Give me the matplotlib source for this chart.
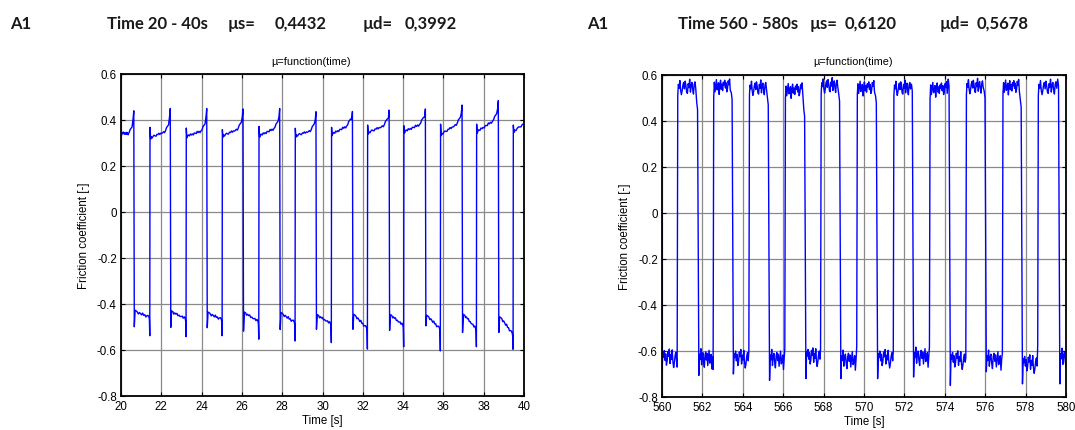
import numpy as np
import matplotlib
matplotlib.use("Agg")
import matplotlib.pyplot as plt

# ---------------- Left panel: Time 20 - 40 s ----------------
L_XLIM = (20, 40)
L_XTICKS = [20, 22, 24, 26, 28, 30, 32, 34, 36, 38, 40]
L_NEG_START = [20.65, 22.46, 24.27, 26.07, 27.89, 29.69, 31.50, 33.32, 35.12, 36.94, 38.74]
L_NEG_END = [21.44, 23.24, 25.03, 26.85, 28.65, 30.45, 32.24, 34.04, 35.86, 37.65, 39.47]
# positive plateaus (first starts at 20 s, last ends at 40 s)
L_POS_SPIKE = [0.335, 0.368, 0.365, 0.358, 0.372, 0.364, 0.368, 0.378, 0.375, 0.382, 0.382, 0.378]
L_POS_DIP = [0.335, 0.317, 0.322, 0.325, 0.325, 0.325, 0.332, 0.339, 0.343, 0.332, 0.343, 0.346]
L_POS_END = [0.340, 0.349, 0.353, 0.360, 0.364, 0.353, 0.375, 0.375, 0.382, 0.382, 0.397, 0.382]
L_POS_PEAK = [0.440, 0.450, 0.450, 0.448, 0.450, 0.436, 0.437, 0.443, 0.448, 0.465, 0.484]
# negative plateaus
L_NEG_FIRST = [-0.499, -0.502, -0.503, -0.518, -0.511, -0.510, -0.510, -0.515, -0.495, -0.524, -0.524]
L_NEG_TOP = [-0.427, -0.430, -0.435, -0.435, -0.437, -0.446, -0.445, -0.446, -0.449, -0.445, -0.456]
L_NEG_LAST = [-0.456, -0.463, -0.466, -0.475, -0.478, -0.485, -0.504, -0.492, -0.506, -0.506, -0.528]
L_NEG_MIN = [-0.538, -0.542, -0.538, -0.553, -0.561, -0.568, -0.596, -0.586, -0.604, -0.586, -0.597]
L_WIGGLE = [0.0, 0.6, -0.4, 0.8, -0.2, 0.3, -0.7, 0.5, 0.1, -0.5, 0.9, -0.3,
            0.4, -0.8, 0.2, 0.7, -0.1, -0.6, 0.5, 0.0, 0.8, -0.4, 0.3, -0.2]
L_HEADER = ["A1", "Time 20 - 40s", "µs=", "0,4432", "µd=", "0,3992"]

# ---------------- Right panel: Time 560 - 580 s ----------------
R_XLIM = (560, 580)
R_XTICKS = [560, 562, 564, 566, 568, 570, 572, 574, 576, 578, 580]
R_START_VALUE = 0.0
R_NEG_START = [560.0, 561.82, 563.53, 565.32, 567.12, 568.85, 570.67, 572.45, 574.27, 576.05, 577.84, 579.69]
R_NEG_END = [560.76, 562.54, 564.31, 566.09, 567.86, 569.65, 571.46, 573.25, 575.05, 576.86, 578.61, 580.0]
R_POS_FIRST = [0.510, 0.500, 0.516, 0.500, 0.520, 0.516, 0.510, 0.494, 0.515, 0.520, 0.510]
R_POS_MEAN = [0.548, 0.552, 0.545, 0.535, 0.555, 0.545, 0.545, 0.540, 0.552, 0.550, 0.548]
R_POS_LAST = [0.450, 0.494, 0.470, 0.420, 0.487, 0.480, 0.530, 0.552, 0.500, 0.460, 0.552]
R_NEG_FIRST = [-0.680, -0.706, -0.700, -0.728, -0.720, -0.720, -0.720, -0.713, -0.750, -0.690, -0.743, -0.743]
R_NEG_MEAN = [-0.630, -0.632, -0.632, -0.635, -0.625, -0.638, -0.632, -0.625, -0.638, -0.638, -0.655, -0.630]
R_NEG_LAST = [-0.670, -0.680, -0.600, -0.590, -0.590, -0.580, -0.600, -0.580, -0.630, -0.610, -0.574, -0.640]
R_WIGGLE = [0.6, 0.1, 0.9, -0.3, 0.5, -0.9, -0.4, 0.8, 0.2, 1.1, -0.7, 0.4,
            -0.2, 1.0, -0.5, -1.2, -0.6, 0.3, 0.7, -0.3, 0.9, 0.2, -0.8, -1.0,
            0.5, -0.1, 1.2, -0.8, 0.3, 0.7, -0.4, -1.1, 0.4, 0.8, -0.2, 0.6,
            -0.9, 0.0, 1.0, -0.6, -0.3, 0.5, -1.3, 0.2, 0.9, -0.5, 0.3, -0.7]
R_HEADER = ["A1", "Time 560 - 580s", "µs=", "0,6120", "µd=", "0,5678"]

Y_TICKS = [-0.8, -0.6, -0.4, -0.2, 0, 0.2, 0.4, 0.6]
Y_TICKLABELS = ["-0.8", "-0.6", "-0.4", "-0.2", "0", "0.2", "0.4", "0.6"]


def left_series():
    t, y = [], []
    starts = [L_XLIM[0]] + L_NEG_END
    ends = L_NEG_START + [L_XLIM[1]]
    k = 0
    nw = len(L_WIGGLE)
    for i, (r, f) in enumerate(zip(starts, ends)):
        last = i == len(ends) - 1
        t += [r, r + 0.03]
        y += [L_POS_SPIKE[i], L_POS_DIP[i]]
        body_end = f - (0.02 if last else 0.25)
        n = 8 if last else 16
        tt = np.linspace(r + 0.06, body_end, n)
        base = np.linspace(L_POS_DIP[i] + 0.008, L_POS_END[i], n)
        for j in range(n):
            t.append(tt[j])
            y.append(base[j] + 0.006 * L_WIGGLE[(k + j) % nw])
        k += 5
        if last:
            break
        t += [f - 0.2, f - 0.1, f - 0.05, f - 0.015]
        y += [L_POS_END[i] + 0.018, L_POS_END[i] + 0.03, L_POS_PEAK[i] - 0.035, L_POS_PEAK[i]]
        e = L_NEG_END[i]
        t += [f + 0.01, f + 0.05, f + 0.12]
        y += [L_NEG_FIRST[i], L_NEG_TOP[i], L_NEG_TOP[i] - 0.004]
        n = 12
        tt = np.linspace(f + 0.16, e - 0.05, n)
        base = np.linspace(L_NEG_TOP[i] - 0.01, L_NEG_LAST[i], n)
        for j in range(n):
            t.append(tt[j])
            y.append(base[j] + 0.007 * L_WIGGLE[(k + j) % nw])
        k += 7
        t += [e - 0.03, e - 0.012]
        y += [L_NEG_LAST[i] - 0.012, L_NEG_MIN[i]]
    return np.array(t), np.array(y)


def right_series():
    t, y = [R_XLIM[0]], [R_START_VALUE]
    k = 0
    nw = len(R_WIGGLE)
    for i, s in enumerate(R_NEG_START):
        e = R_NEG_END[i]
        last = i == len(R_NEG_START) - 1
        t.append(s + 0.005)
        y.append(R_NEG_FIRST[i])
        n = 20 if not last else 8
        tt = np.linspace(s + 0.04, e - (0.0 if last else 0.04), n)
        for j in range(n):
            t.append(tt[j])
            y.append(R_NEG_MEAN[i] + 0.035 * R_WIGGLE[(k + j) % nw])
        k += 11
        if last:
            break
        t.append(e - 0.01)
        y.append(R_NEG_LAST[i])
        f = R_NEG_START[i + 1]
        t.append(e + 0.02)
        y.append(R_POS_FIRST[i])
        n = 24
        tt = np.linspace(e + 0.05, f - 0.15, n)
        for j in range(n):
            t.append(tt[j])
            y.append(R_POS_MEAN[i] + 0.028 * R_WIGGLE[(k + j) % nw])
        k += 13
        t += [f - 0.1, f - 0.06]
        y += [R_POS_LAST[i] + 0.03, R_POS_LAST[i]]
    return np.array(t), np.array(y)


W, H = 1075, 431
fig = plt.figure(figsize=(W / 100, H / 100), dpi=100)
fig.patch.set_facecolor("white")

tick_font = dict(family="Liberation Sans", size=8.3)


def setup_axes(rect, xlim, xticks, series, title_x):
    ax = fig.add_axes(rect)
    t, y = series
    ax.plot(t, y, color="#0000ff", lw=1.0)
    ax.set_xlim(*xlim)
    ax.set_ylim(-0.8, 0.6)
    ax.set_xticks(xticks)
    ax.set_xticklabels([str(v) for v in xticks], **tick_font)
    ax.set_yticks(Y_TICKS)
    ax.set_yticklabels(Y_TICKLABELS, **tick_font)
    ax.grid(True, color="#8a8a8a", lw=0.9)
    ax.set_axisbelow(True)
    ax.tick_params(direction="in", top=True, right=True, length=3, width=0.8, pad=3)
    for sp in ax.spines.values():
        sp.set_linewidth(1.3)
        sp.set_color("black")
    ax.set_xlabel("Time [s]", family="Liberation Sans", size=8.3, labelpad=1)
    ax.set_ylabel("Friction coefficient [-]", family="Liberation Sans", size=8.3, labelpad=5)
    fig.text(title_x / W, 1 - 62 / H, "µ=function(time)", ha="center", va="center",
             family="Liberation Sans", size=7.8)
    return ax


setup_axes([121 / W, 1 - 397 / H, 403 / W, 322 / H], L_XLIM, L_XTICKS, left_series(), 311)
setup_axes([662 / W, 1 - 398 / H, 404 / W, 322 / H], R_XLIM, R_XTICKS, right_series(), 853)

hdr_y = 1 - 24 / H
for xs, parts in (([10, 107, 228, 275, 363, 405], L_HEADER),
                  ([587, 678, 810, 845, 940, 977], R_HEADER)):
    for x, s in zip(xs, parts):
        fig.text(x / W, hdr_y, s, ha="left", va="center", family="Lato",
                 weight="bold", size=12, color="#1a1a1a")

fig.savefig("out.png", dpi=100)
